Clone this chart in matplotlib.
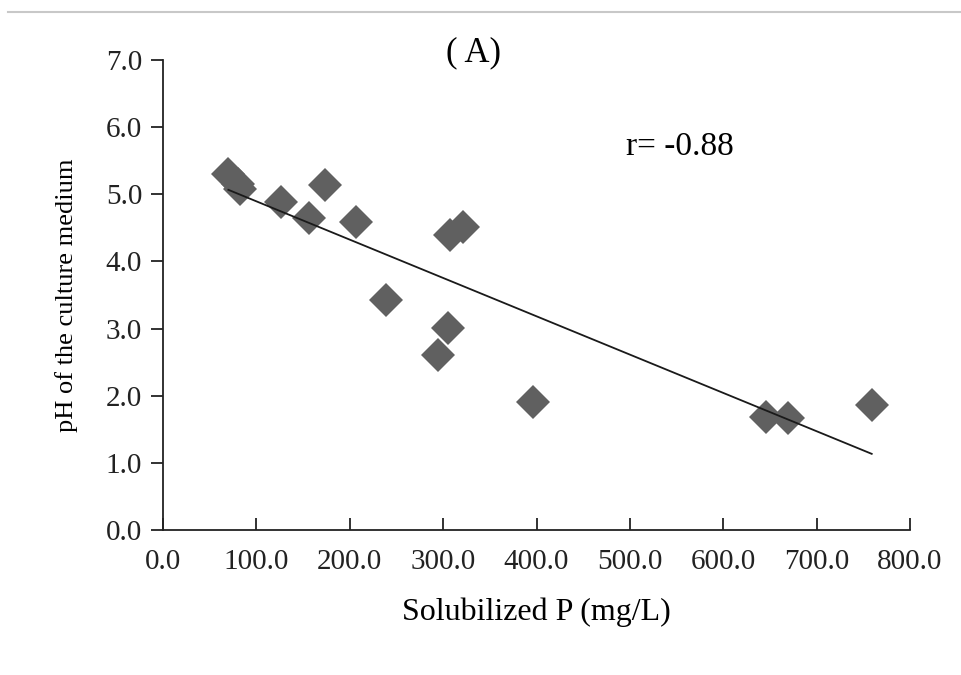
import numpy as np
import matplotlib
matplotlib.use("Agg")
import matplotlib.pyplot as plt
from matplotlib.lines import Line2D

# Solubilized P (mg/L) vs pH of culture medium
sol_p = [70, 80, 82, 126, 156, 173, 207, 239, 294, 305, 307, 321, 396, 646, 669, 759]
ph = [5.30, 5.15, 5.08, 4.89, 4.65, 5.14, 4.59, 3.43, 2.61, 3.01, 4.40, 4.52, 1.91, 1.68, 1.67, 1.86]

x_ticks = [0, 100, 200, 300, 400, 500, 600, 700, 800]
y_ticks = [0, 1, 2, 3, 4, 5, 6, 7]

plt.rcParams.update({
    "font.family": "Liberation Serif",
    "font.size": 21,
})

fig = plt.figure(figsize=(9.62, 6.75), dpi=100)
ax = fig.add_axes([163/962, 1 - 530/675, (910-163)/962, (530-60)/675])

ax.plot(sol_p, ph, linestyle="none", marker="D", markersize=17.5,
        color="#606060", markeredgewidth=0, zorder=3)

# linear trend line
slope, intercept = np.polyfit(sol_p, ph, 1)
xs = np.array([min(sol_p), max(sol_p)])
ax.plot(xs, slope*xs + intercept, color="#1a1a1a", linewidth=1.3, zorder=4)

ax.set_xlim(0, 800)
ax.set_ylim(0, 7)
ax.set_xticks(x_ticks)
ax.set_yticks(y_ticks)
ax.set_xticklabels([f"{v:.1f}" for v in x_ticks])
ax.set_yticklabels([f"{v:.1f}" for v in y_ticks])
ax.spines["top"].set_visible(False)
ax.spines["right"].set_visible(False)
for s in ("left", "bottom"):
    ax.spines[s].set_linewidth(1.3)
    ax.spines[s].set_color("#222222")
ax.tick_params(axis="x", direction="in", length=9, width=1.3, pad=14, colors="#222222")
ax.tick_params(axis="y", direction="out", length=9, width=1.3, pad=6, colors="#222222")

ax.set_xlabel("Solubilized P (mg/L)", fontsize=23, labelpad=16)
ax.set_ylabel("pH of the culture medium", fontsize=19, labelpad=20)

ax.text(0.415, 1.015, "( A)", transform=ax.transAxes, ha="center", va="center", fontsize=25)
ax.text(0.62, 0.815, "r= -0.88", transform=ax.transAxes, ha="left", va="center", fontsize=24)

# thin grey rule across the top
fig.add_artist(Line2D([8/962, 1], [1 - 12/675, 1 - 12/675], color="#c8c8c8", linewidth=1.5))

fig.savefig("out.png", dpi=100, facecolor="white")
